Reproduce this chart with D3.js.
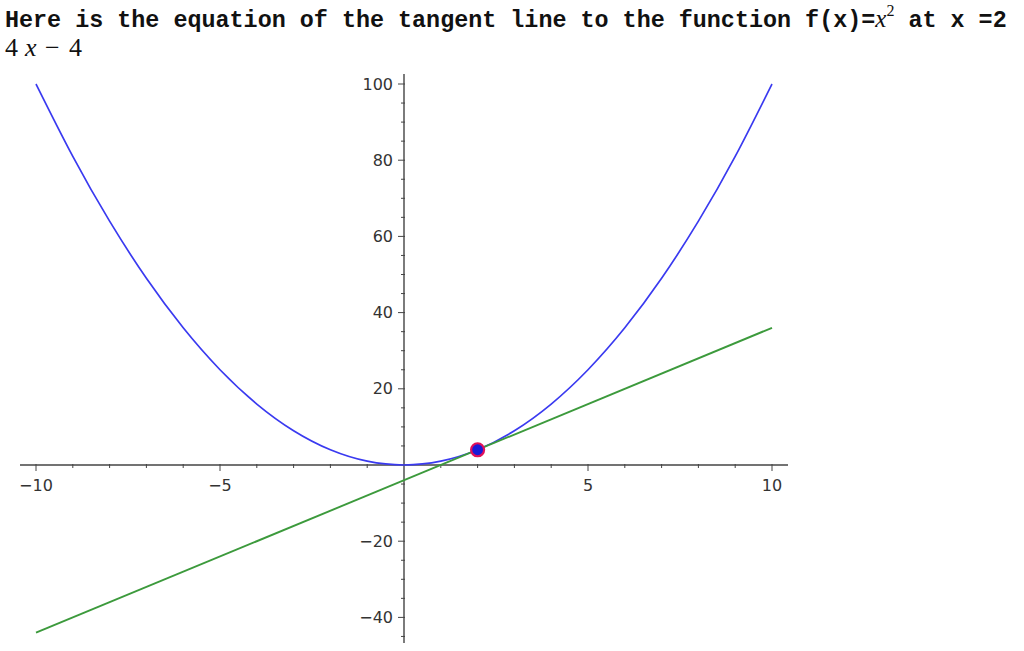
<!DOCTYPE html>
<html><head><meta charset="utf-8">
<script src="https://cdn.jsdelivr.net/npm/d3@7"></script>
<style>
html,body{margin:0;padding:0;background:#fff;}
svg{display:block;}
</style></head>
<body>
<svg id="chart" width="1024" height="651"></svg>
<script>
// ---- data ----
const titleText = "Here is the equation of the tangent line to the function f(x)=";
const titleTail = " at x =2";
const parabolaX = [-10,-9,-8,-7,-6,-5,-4,-3,-2,-1,0,1,2,3,4,5,6,7,8,9,10];
const parabolaY = [100,81,64,49,36,25,16,9,4,1,0,1,4,9,16,25,36,49,64,81,100];
const tangentX = [-10, 10];
const tangentY = [-44, 36];
const pointX = [2];
const pointY = [4];
const xMajorTicks = [-10, -5, 5, 10];
const xMinorTicks = [-9,-8,-7,-6,-4,-3,-2,-1,1,2,3,4,6,7,8,9];
const yMajorTicks = [-40, -20, 20, 40, 60, 80, 100];
const yMinorTicks = [-45,-35,-30,-25,-15,-10,-5,5,10,15,25,30,35,45,50,55,65,70,75,85,90,95];

const svg = d3.select("#chart");
const x = d3.scaleLinear().domain([-10, 10]).range([36, 772]);
const y = d3.scaleLinear().domain([0, 100]).range([465, 84]);
const fmt = d => (d < 0 ? "\u2212" + Math.abs(d) : String(d));

// title
const t1 = svg.append("text").attr("x", 5).attr("y", 27)
  .attr("font-family", "Liberation Mono, DejaVu Sans Mono, monospace")
  .attr("font-weight", "bold").attr("font-size", 23.4).attr("fill", "#111");
t1.append("tspan").attr("xml:space","preserve").text(titleText);
t1.append("tspan").attr("font-family", "Liberation Serif, DejaVu Serif, serif")
  .attr("font-style", "italic").attr("font-weight", "normal").attr("font-size", 25).text("x");
t1.append("tspan").attr("font-family", "Liberation Serif, DejaVu Serif, serif")
  .attr("font-weight", "normal").attr("font-size", 16).attr("dy", -11).text("2");
t1.append("tspan").attr("dy", 11).attr("xml:space","preserve").text(titleTail);

// second line: 4 x − 4
const line2 = [
  {s: "4", x: 5, italic: false},
  {s: "x", x: 25, italic: true},
  {s: "\u2212", x: 45, italic: false},
  {s: "4", x: 69, italic: false}
];
svg.selectAll(".l2").data(line2).join("text")
  .attr("x", d => d.x).attr("y", 56)
  .attr("font-family", "Liberation Serif, DejaVu Serif, serif")
  .attr("font-size", 26).attr("fill", "#111")
  .attr("font-style", d => d.italic ? "italic" : "normal")
  .text(d => d.s);

// axes
const axisColor = "#444";
const xAxisG = svg.append("g").attr("transform", `translate(0,${y(0)})`);
xAxisG.append("line").attr("x1", 20).attr("x2", 788).attr("stroke", axisColor).attr("stroke-width", 1.4);
xAxisG.selectAll(".xmin").data(xMinorTicks).join("line")
  .attr("x1", d => x(d)).attr("x2", d => x(d)).attr("y1", -1).attr("y2", 3)
  .attr("stroke", axisColor).attr("stroke-width", 1);
xAxisG.selectAll(".xmaj").data(xMajorTicks).join("line")
  .attr("x1", d => x(d)).attr("x2", d => x(d)).attr("y1", -1).attr("y2", 6)
  .attr("stroke", axisColor).attr("stroke-width", 1);
xAxisG.selectAll(".xlab").data(xMajorTicks).join("text")
  .attr("x", d => x(d)).attr("y", 26).attr("text-anchor", "middle")
  .attr("font-family", "DejaVu Sans, sans-serif").attr("font-size", 16).attr("fill", "#333")
  .text(fmt);

const yAxisG = svg.append("g").attr("transform", `translate(${x(0)},0)`);
yAxisG.append("line").attr("y1", 74).attr("y2", 643).attr("stroke", axisColor).attr("stroke-width", 1.4);
yAxisG.selectAll(".ymin").data(yMinorTicks).join("line")
  .attr("y1", d => y(d)).attr("y2", d => y(d)).attr("x1", -3).attr("x2", 1)
  .attr("stroke", axisColor).attr("stroke-width", 1);
yAxisG.selectAll(".ymaj").data(yMajorTicks).join("line")
  .attr("y1", d => y(d)).attr("y2", d => y(d)).attr("x1", -6).attr("x2", 1)
  .attr("stroke", axisColor).attr("stroke-width", 1);
yAxisG.selectAll(".ylab").data(yMajorTicks).join("text")
  .attr("x", -11).attr("y", d => y(d)).attr("dy", "0.35em").attr("text-anchor", "end")
  .attr("font-family", "DejaVu Sans, sans-serif").attr("font-size", 16).attr("fill", "#333")
  .text(fmt);

// curves
const line = d3.line().x(d => x(d[0])).y(d => y(d[1])).curve(d3.curveNatural);
svg.append("path").datum(parabolaX.map((v, i) => [v, parabolaY[i]]))
  .attr("d", line).attr("fill", "none").attr("stroke", "#3a3af0").attr("stroke-width", 1.7);
svg.append("path").datum(tangentX.map((v, i) => [v, tangentY[i]]))
  .attr("d", d3.line().x(d => x(d[0])).y(d => y(d[1])))
  .attr("fill", "none").attr("stroke", "#3c9a3c").attr("stroke-width", 1.9);

svg.selectAll(".pt").data(pointX.map((v, i) => [v, pointY[i]])).join("circle")
  .attr("cx", d => x(d[0])).attr("cy", d => y(d[1])).attr("r", 6.5)
  .attr("fill", "#1a1ad8").attr("stroke", "#e0105a").attr("stroke-width", 2.2);
</script>
</body></html>
